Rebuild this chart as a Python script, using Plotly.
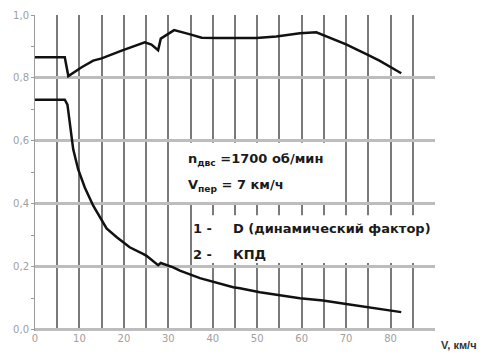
import plotly.graph_objects as go

# Series 1: D (динамический фактор)
d_x = [0, 6.7, 7.5, 10.5, 13.1, 15.0, 19.5, 24.7, 26.2, 27.7, 28.3, 31.3, 34.5, 37.5, 41.0, 44.6, 49.8, 54.3, 59.6, 63.3, 65.5, 70.0, 74.9, 77.5, 82.4]
d_y = [0.866, 0.866, 0.806, 0.834, 0.855, 0.862, 0.887, 0.913, 0.906, 0.888, 0.925, 0.952, 0.940, 0.928, 0.927, 0.927, 0.927, 0.932, 0.942, 0.945, 0.932, 0.907, 0.873, 0.855, 0.815]

# Series 2: КПД
k_x = [0, 6.7, 7.3, 7.9, 8.6, 9.7, 11.2, 13.1, 15.3, 16.1, 18.4, 21.3, 24.3, 25.1, 27.7, 28.3, 31.1, 32.6, 37.1, 44.6, 46.1, 50.6, 59.6, 64.8, 70.0, 74.5, 82.4]
k_y = [0.731, 0.731, 0.715, 0.647, 0.573, 0.510, 0.452, 0.394, 0.341, 0.322, 0.294, 0.262, 0.241, 0.235, 0.205, 0.212, 0.198, 0.188, 0.164, 0.135, 0.132, 0.119, 0.100, 0.093, 0.082, 0.072, 0.056]

x_labels = [0, 10, 20, 30, 40, 50, 60, 70, 80]
x_grid = [5, 10, 15, 20, 25, 30, 35, 40, 45, 50, 55, 60, 65, 70, 75, 80, 85]
y_ticks = [0.0, 0.1, 0.2, 0.3, 0.4, 0.5, 0.6, 0.7, 0.8, 0.9, 1.0]
y_labels = ["0,0", "", "0,2", "", "0,4", "", "0,6", "", "0,8", "", "1,0"]
y_grid = [0.0, 0.2, 0.4, 0.6, 0.8]

fig = go.Figure()
fig.add_trace(go.Scatter(x=d_x, y=d_y, mode="lines", line=dict(color="#111111", width=2.5), showlegend=False))
fig.add_trace(go.Scatter(x=k_x, y=k_y, mode="lines", line=dict(color="#111111", width=2.5), showlegend=False))

tick_font = dict(family="DejaVu Sans", size=10, color="#a0a0a0")

fig.update_layout(
    width=484, height=354,
    margin=dict(l=35, r=49, t=15, b=23),
    paper_bgcolor="white", plot_bgcolor="white",
    xaxis=dict(
        range=[0, 90], tickvals=x_labels, ticks="", showgrid=False, zeroline=False,
        showline=False, tickfont=tick_font, automargin=False,
        minor=dict(tickvals=x_grid, showgrid=True, gridcolor="#7a7a7a", gridwidth=1.6, ticks=""),
    ),
    yaxis=dict(
        range=[-0.004, 1.0], tickvals=y_ticks, ticktext=y_labels, ticks="outside", ticklen=3,
        tickcolor="#9a9a9a", showgrid=False, zeroline=False, showline=True, linecolor="#9a9a9a",
        linewidth=1, tickfont=tick_font, automargin=False,
        minor=dict(tickvals=y_grid, showgrid=True, gridcolor="#bdbdbd", gridwidth=3, ticks=""),
    ),
    shapes=[
        dict(type="rect", xref="x", yref="y", x0=32.6, x1=67, y0=0.406, y1=0.594,
             fillcolor="white", line=dict(width=0), layer="between"),
        dict(type="rect", xref="x", yref="y", x0=36.5, x1=90, y0=0.212, y1=0.364,
             fillcolor="white", line=dict(width=0), layer="between"),
    ],
)

txt_font = dict(family="DejaVu Sans", size=13, color="#1a1a1a")
ann = [
    dict(x=34.0, y=0.54, text="<b>n<sub>двс</sub> =1700 об/мин</b>"),
    dict(x=34.0, y=0.458, text="<b>V<sub>пер</sub> = 7 км/ч</b>"),
    dict(x=35.0, y=0.323, text="<b>1 -</b>"),
    dict(x=44.0, y=0.323, text="<b>D (динамический фактор)</b>"),
    dict(x=35.0, y=0.24, text="<b>2 -</b>"),
    dict(x=44.0, y=0.24, text="<b>КПД</b>"),
]
for a in ann:
    fig.add_annotation(x=a["x"], y=a["y"], xref="x", yref="y", text=a["text"], showarrow=False,
                       xanchor="left", yanchor="middle", font=txt_font)

fig.add_annotation(x=1.01, y=0, xref="paper", yref="paper", yshift=-14, text="<b>V, км/ч</b>",
                   showarrow=False, xanchor="left", yanchor="middle",
                   font=dict(family="Liberation Sans", size=11, color="#333333"))

fig.write_html("out.html", config={"displayModeBar": False},
               post_script="document.body.style.margin='0';document.body.style.overflow='hidden';")
